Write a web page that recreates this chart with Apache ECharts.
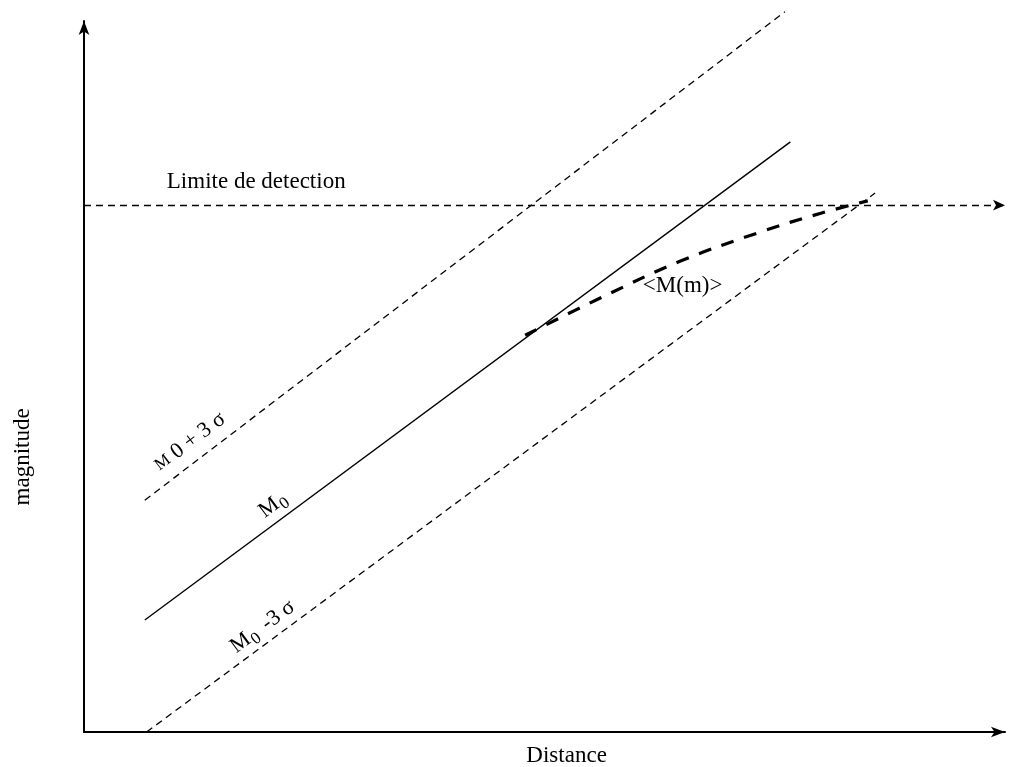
<!DOCTYPE html>
<html><head><meta charset="utf-8">
<script src="https://cdn.jsdelivr.net/npm/echarts@6/dist/echarts.min.js"></script>
<style>html,body{margin:0;padding:0;background:#fff}#c{width:1010px;height:767px}</style>
</head><body><div id="c"></div>
<script>
// Axis extents (arbitrary units, no tick labels in reference)
const xRange = [0, 100];
const yRange = [0, 100];
// Upper envelope M0 + 3σ
const upperX = [6.6, 76.1];
const upperY = [32.6, 101.3];
// Mean relation M0
const meanX = [6.6, 76.7];
const meanY = [15.75, 83.0];
// Lower envelope M0 - 3σ
const lowerX = [6.8, 85.9];
const lowerY = [0, 75.8];
// Detection limit
const limitY = 74.1;
// Observed mean <M(m)>
const curveX = [47.9, 56.0, 64.7, 73.4, 80.1, 85.1];
const curveY = [55.8, 61.0, 66.2, 70.3, 73.0, 74.7];
// Annotations
const labelText = ['{m|M} 0 + 3 σ', 'M{s|0}', 'M{s|0} -3 σ', '<M(m)>', 'Limite de detection'];
const labelX = [11.5, 20.7, 19.4, 65.0, 18.7];
const labelY = [40.8, 32.1, 14.8, 62.7, 77.4];
const labelAlong = ['upper', 'mean', 'lower', null, null];
const axisNameX = 'Distance';
const axisNameY = 'magnitude';

const FONT = '"Liberation Serif", "DejaVu Serif", serif';
const pairs = (xs, ys) => xs.map((x, i) => [x, ys[i]]);

const chart = echarts.init(document.getElementById('c'));
const axisCommon = {
  type: 'value',
  splitLine: { show: false },
  axisTick: { show: false },
  axisLabel: { show: false },
  axisLine: { show: true, symbol: ['none', 'arrow'], symbolSize: [8, 14], symbolOffset: [0, 0],
    lineStyle: { color: '#000', width: 2 } }
};
const option = {
  animation: false,
  backgroundColor: '#fff',
  grid: { left: 84, right: 5, top: 21, bottom: 35 },
  xAxis: Object.assign({}, axisCommon, { min: xRange[0], max: xRange[1] }),
  yAxis: Object.assign({}, axisCommon, { min: yRange[0], max: yRange[1] }),
  series: [
    { type: 'line', clip: false, symbol: 'none', data: pairs(upperX, upperY),
      lineStyle: { color: '#000', width: 1.3, type: [7, 5] } },
    { type: 'line', clip: false, symbol: 'none', data: pairs(meanX, meanY),
      lineStyle: { color: '#000', width: 1.4, type: 'solid' } },
    { type: 'line', clip: false, symbol: 'none', data: pairs(lowerX, lowerY),
      lineStyle: { color: '#000', width: 1.3, type: [7, 5] },
      markLine: { silent: true, symbol: ['none', 'arrow'], symbolSize: [8, 12], label: { show: false },
        lineStyle: { color: '#000', width: 1.3, type: [7, 5] },
        data: [[{ coord: [xRange[0], limitY] }, { coord: [xRange[1], limitY] }]] } },
    { type: 'line', clip: false, symbol: 'none', smooth: 0.4, data: pairs(curveX, curveY),
      lineStyle: { color: '#000', width: 3.2, type: [13, 11] } }
  ]
};
chart.setOption(option);

const px = (x, y) => chart.convertToPixel({ gridIndex: 0 }, [x, y]);
const lines = { upper: [upperX, upperY], mean: [meanX, meanY], lower: [lowerX, lowerY] };
function angleOf(key) {
  if (!key) return 0;
  const [xs, ys] = lines[key];
  const a = px(xs[0], ys[0]), b = px(xs[1], ys[1]);
  return Math.atan2(a[1] - b[1], b[0] - a[0]);
}
const graphics = labelText.map((t, i) => {
  const p = px(labelX[i], labelY[i]);
  return {
    type: 'text', x: p[0], y: p[1], rotation: angleOf(labelAlong[i]), silent: true,
    style: {
      text: t, fill: '#000', fontFamily: FONT, fontSize: i < 3 ? 22 : 23,
      align: 'center', verticalAlign: 'middle',
      rich: {
        s: { fontFamily: FONT, fontSize: 17, verticalAlign: 'bottom', padding: [12, 4, 0, 1] },
        m: { fontFamily: FONT, fontSize: 17 }
      }
    }
  };
});
const c1 = px(xRange[0], yRange[0]);
const yPos = px(xRange[0], 38.7);
graphics.push({ type: 'text', x: 23, y: yPos[1], rotation: Math.PI / 2, silent: true,
  style: { text: axisNameY, fill: '#000', fontFamily: FONT, fontSize: 23, align: 'center', verticalAlign: 'middle' } });
const dPos = px(52.4, yRange[0]);
graphics.push({ type: 'text', x: dPos[0], y: c1[1] + 24, silent: true,
  style: { text: axisNameX, fill: '#000', fontFamily: FONT, fontSize: 23, align: 'center', verticalAlign: 'middle' } });
chart.setOption({ graphic: graphics });
</script></body></html>
